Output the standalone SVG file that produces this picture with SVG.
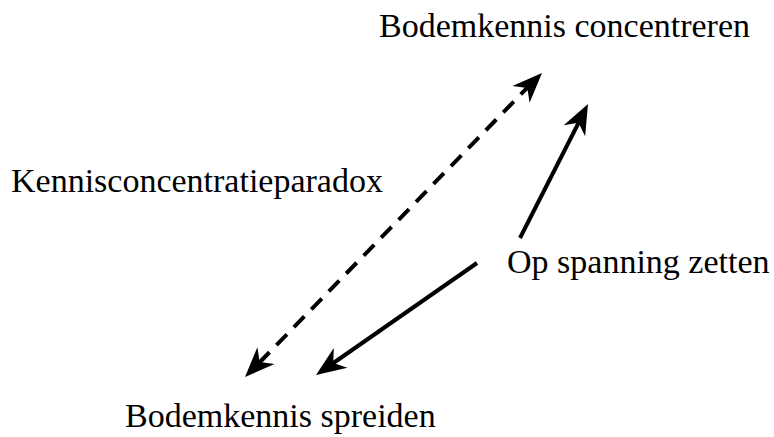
<svg xmlns="http://www.w3.org/2000/svg" width="774" height="437" viewBox="0 0 774 437">
<style>
text{font-family:"Liberation Serif","Times New Roman",serif;font-size:34px;fill:#000}
.c{stroke:#000;stroke-width:4;fill:none}
.d{stroke-dasharray:15 10}
.h{fill:#000}
</style>
<defs>
<path id="head" d="M0,0 L-30,-12 L-21,0 L-30,12 Z"/>
</defs>
<rect width="774" height="437" fill="#fff"/>
<g id="connectors">
<line class="c d" x1="259" y1="363" x2="528" y2="87"/>
<use href="#head" class="h" transform="translate(542,73) rotate(-45.66)"/>
<use href="#head" class="h" transform="translate(245,377) rotate(134.34)"/>
<line class="c" x1="520" y1="238" x2="579" y2="122"/>
<use href="#head" class="h" transform="translate(588,104) rotate(-63.1)"/>
<line class="c" x1="477" y1="263" x2="332" y2="364"/>
<use href="#head" class="h" transform="translate(316,375) rotate(145.2)"/>
</g>
<g id="n1"><text x="379" y="37">Bodemkennis concentreren</text></g>
<g id="n2"><text x="11" y="192">Kennisconcentratieparadox</text></g>
<g id="n3"><text x="507" y="273">Op spanning zetten</text></g>
<g id="n4"><text x="125" y="427">Bodemkennis spreiden</text></g>
</svg>
